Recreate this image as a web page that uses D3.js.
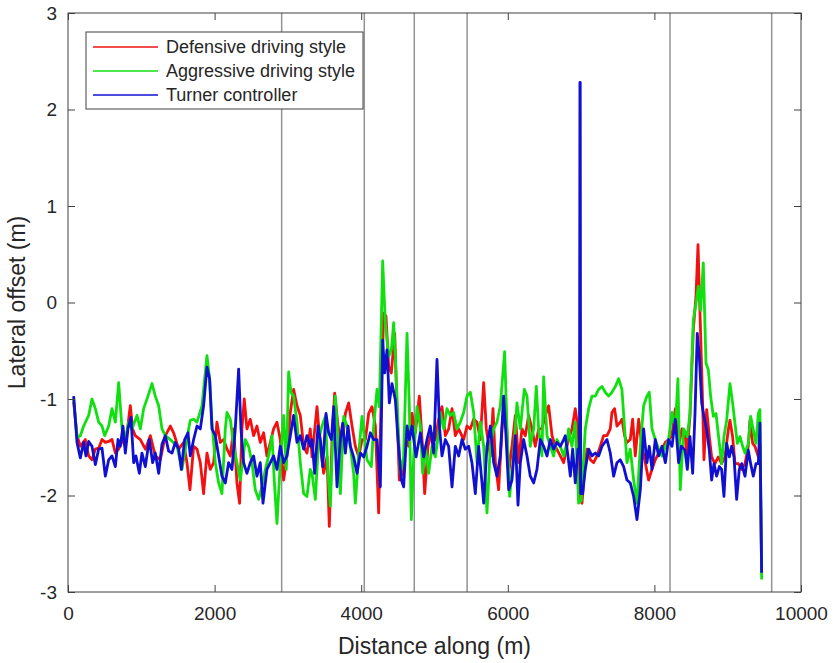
<!DOCTYPE html>
<html>
<head>
<meta charset="utf-8">
<script src="https://cdn.jsdelivr.net/npm/d3@7"></script>
<style>
    body { margin: 0; background: #fff; }
    text { font-family: "Liberation Sans", Arial, Helvetica, sans-serif; fill: #262626; }
</style>
</head>
<body>
<div id="chart"></div>
<script>
// distance along (m), lateral offset (m)
const defensive = [[77,-1.03],[123,-1.38],[168,-1.49],[236,-1.42],[282,-1.59],[327,-1.63],[373,-1.52],[418,-1.51],[464,-1.42],[509,-1.45],[555,-1.44],[600,-1.42],[646,-1.56],[691,-1.52],[737,-1.42],[782,-1.49],[850,-1.07],[882,-1.31],[918,-1.38],[987,-1.42],[1055,-1.52],[1123,-1.38],[1191,-1.59],[1259,-1.63],[1328,-1.38],[1396,-1.28],[1441,-1.35],[1510,-1.52],[1578,-1.45],[1623,-1.66],[1664,-1.94],[1714,-1.49],[1760,-1.52],[1805,-1.66],[1850,-1.98],[1896,-1.56],[1941,-1.73],[1987,-1.66],[2032,-1.24],[2078,-1.45],[2123,-1.42],[2169,-1.52],[2214,-1.59],[2260,-1.31],[2305,-1.87],[2341,-2.08],[2373,-1.31],[2405,-1.0],[2441,-1.31],[2487,-1.21],[2532,-1.38],[2578,-1.28],[2623,-1.45],[2669,-1.35],[2714,-1.59],[2760,-1.45],[2805,-1.31],[2851,-1.24],[2896,-1.42],[2942,-1.84],[2987,-1.59],[3033,-1.14],[3078,-0.90],[3124,-1.07],[3169,-1.17],[3215,-1.49],[3260,-1.56],[3305,-1.31],[3329,-1.60],[3397,-1.08],[3443,-1.49],[3488,-1.77],[3534,-1.60],[3565,-2.32],[3602,-1.42],[3638,-0.94],[3684,-1.28],[3738,-1.49],[3784,-1.15],[3829,-1.04],[3875,-1.28],[3920,-1.49],[3966,-1.60],[4011,-1.42],[4057,-1.42],[4102,-1.15],[4148,-1.08],[4193,-1.28],[4238,-2.18],[4275,-0.90],[4307,-0.11],[4338,-0.14],[4375,-0.66],[4411,-0.73],[4457,-0.32],[4488,-1.08],[4520,-1.84],[4566,-1.77],[4611,-1.42],[4648,-1.49],[4693,-1.15],[4739,-1.35],[4793,-0.97],[4830,-1.42],[4866,-1.98],[4911,-1.49],[4957,-1.35],[5011,-1.42],[5057,-1.21],[5102,-1.08],[5148,-1.38],[5193,-1.31],[5239,-1.10],[5284,-1.38],[5330,-1.31],[5398,-1.42],[5443,-1.28],[5489,-1.31],[5534,-1.21],[5580,-1.24],[5625,-1.42],[5671,-0.83],[5707,-1.31],[5762,-1.59],[5798,-1.10],[5830,-1.66],[5875,-1.94],[5921,-1.31],[5966,-0.97],[6012,-1.77],[6057,-1.49],[6103,-1.17],[6148,-1.66],[6193,-1.31],[6239,-1.38],[6284,-1.17],[6330,-1.31],[6375,-1.49],[6421,-1.31],[6466,-1.31],[6512,-1.17],[6557,-1.07],[6603,-1.38],[6648,-1.49],[6716,-1.59],[6762,-1.66],[6807,-1.49],[6830,-1.42],[6875,-1.31],[6921,-1.10],[6957,-1.31],[6989,-2.04],[7012,-2.08],[7048,-1.73],[7080,-1.52],[7126,-1.63],[7171,-1.66],[7216,-1.59],[7262,-1.49],[7307,-1.38],[7353,-1.38],[7398,-1.31],[7421,-1.14],[7457,-1.10],[7489,-1.28],[7535,-1.24],[7557,-1.21],[7594,-1.38],[7626,-1.45],[7671,-1.42],[7703,-1.21],[7739,-1.59],[7785,-1.21],[7830,-1.49],[7876,-1.66],[7921,-1.84],[7967,-1.73],[8012,-1.63],[8058,-1.56],[8103,-1.52],[8149,-1.45],[8194,-1.42],[8240,-1.38],[8285,-1.10],[8330,-1.49],[8376,-1.31],[8421,-1.38],[8440,-1.60],[8485,-1.18],[8531,-0.28],[8567,0.06],[8595,0.60],[8622,-0.11],[8658,-1.04],[8676,-1.63],[8713,-1.11],[8749,-1.39],[8781,-1.60],[8826,-1.67],[8872,-1.60],[8917,-1.67],[8963,-1.60],[9008,-1.32],[9031,-1.22],[9067,-1.39],[9099,-1.67],[9145,-1.67],[9190,-1.73],[9236,-1.67],[9281,-1.49],[9304,-1.22],[9340,-1.46],[9372,-1.49],[9418,-1.60],[9440,-1.46],[9463,-2.80]]

const aggressive = [[77,-1.0],[123,-1.40],[168,-1.38],[214,-1.28],[282,-1.17],[327,-1.0],[373,-1.10],[418,-1.24],[464,-1.28],[500,-1.38],[555,-1.28],[600,-1.10],[646,-1.24],[691,-0.83],[737,-1.31],[782,-1.42],[828,-1.24],[873,-1.31],[941,-1.17],[987,-1.31],[1032,-1.10],[1091,-0.97],[1146,-0.84],[1191,-0.97],[1237,-1.07],[1282,-1.31],[1328,-1.38],[1396,-1.42],[1487,-1.49],[1555,-1.73],[1646,-1.31],[1668,-1.22],[1714,-1.21],[1760,-1.24],[1828,-1.07],[1896,-0.55],[1932,-0.79],[1964,-1.24],[2010,-1.66],[2055,-1.87],[2100,-1.98],[2146,-1.31],[2169,-1.14],[2214,-1.21],[2260,-1.49],[2305,-1.66],[2351,-1.84],[2419,-1.42],[2464,-1.49],[2510,-1.66],[2555,-1.94],[2601,-2.04],[2646,-1.91],[2692,-1.73],[2737,-1.59],[2783,-1.38],[2814,-1.84],[2851,-2.29],[2896,-1.66],[2942,-1.17],[2978,-1.73],[3010,-0.72],[3042,-0.93],[3078,-0.97],[3124,-1.24],[3169,-1.66],[3215,-1.98],[3260,-2.01],[3305,-1.73],[3329,-1.77],[3374,-2.04],[3420,-1.42],[3465,-1.28],[3511,-1.18],[3547,-1.77],[3579,-2.11],[3611,-1.42],[3647,-0.97],[3684,-1.42],[3716,-1.98],[3761,-1.18],[3806,-1.28],[3852,-1.49],[3897,-1.77],[3920,-2.08],[3966,-1.56],[4011,-1.18],[4047,-1.42],[4079,-1.63],[4138,-1.70],[4170,-1.28],[4216,-0.90],[4248,-1.08],[4293,0.43],[4329,-0.21],[4375,-0.56],[4411,-0.49],[4443,-0.21],[4466,-0.56],[4502,-1.25],[4534,-1.77],[4579,-1.60],[4625,-0.32],[4657,-1.08],[4684,-2.25],[4716,-1.60],[4761,-1.08],[4807,-1.28],[4839,-1.77],[4875,-1.49],[4920,-1.77],[4966,-1.49],[5011,-1.60],[5057,-1.35],[5079,-1.14],[5125,-1.31],[5170,-1.10],[5216,-1.17],[5261,-1.14],[5307,-1.31],[5352,-1.24],[5398,-1.14],[5443,-0.97],[5489,-0.93],[5534,-1.14],[5580,-1.66],[5625,-1.24],[5671,-1.49],[5716,-2.18],[5762,-1.49],[5807,-1.31],[5852,-1.24],[5898,-1.07],[5957,-0.51],[5989,-1.31],[6025,-2.01],[6071,-1.66],[6125,-1.04],[6171,-1.31],[6225,-0.90],[6262,-0.97],[6307,-1.49],[6353,-1.31],[6389,-0.87],[6421,-1.31],[6466,-1.59],[6489,-0.77],[6535,-1.38],[6580,-1.49],[6625,-1.59],[6671,-1.42],[6716,-1.49],[6762,-1.59],[6807,-1.45],[6830,-1.31],[6875,-1.49],[6921,-1.24],[6966,-2.08],[7003,-2.05],[7057,-1.31],[7103,-1.10],[7148,-0.97],[7194,-0.97],[7239,-0.90],[7285,-0.87],[7330,-0.93],[7376,-0.97],[7421,-0.93],[7467,-0.87],[7512,-0.79],[7557,-0.90],[7594,-1.31],[7626,-1.66],[7671,-1.52],[7717,-1.84],[7762,-2.08],[7808,-1.49],[7853,-1.07],[7898,-0.97],[7930,-0.93],[7967,-1.31],[8012,-1.42],[8058,-1.52],[8103,-1.59],[8149,-1.49],[8194,-1.42],[8240,-1.14],[8285,-1.31],[8321,-0.79],[8353,-1.94],[8399,-1.31],[8449,-1.39],[8485,-1.15],[8531,-0.18],[8567,-0.01],[8599,0.17],[8631,-0.08],[8667,0.41],[8704,-0.63],[8736,-0.70],[8767,-0.97],[8804,-1.18],[8840,-1.15],[8886,-1.46],[8917,-1.67],[8949,-1.39],[8986,-1.22],[9031,-0.84],[9067,-1.04],[9099,-1.25],[9131,-1.46],[9168,-1.39],[9204,-1.49],[9236,-1.56],[9281,-1.46],[9313,-1.18],[9349,-1.32],[9386,-1.46],[9418,-1.15],[9440,-1.11],[9463,-2.87]]

const turner = [[77,-0.97],[123,-1.45],[168,-1.61],[214,-1.45],[245,-1.59],[282,-1.44],[327,-1.49],[373,-1.68],[418,-1.52],[464,-1.51],[509,-1.80],[555,-1.63],[600,-1.59],[646,-1.70],[682,-1.42],[714,-1.49],[750,-1.28],[782,-1.56],[818,-1.31],[859,-1.19],[896,-1.66],[927,-1.59],[973,-1.77],[1009,-1.56],[1055,-1.70],[1109,-1.42],[1155,-1.66],[1191,-1.56],[1237,-1.77],[1282,-1.47],[1328,-1.38],[1373,-1.54],[1419,-1.56],[1464,-1.45],[1510,-1.52],[1546,-1.73],[1591,-1.42],[1637,-1.35],[1668,-1.59],[1714,-1.42],[1760,-1.28],[1805,-1.31],[1850,-1.07],[1896,-0.67],[1932,-0.79],[1964,-1.31],[2010,-1.38],[2055,-1.59],[2100,-1.80],[2146,-1.87],[2191,-1.66],[2237,-1.73],[2282,-1.31],[2328,-0.69],[2360,-1.31],[2396,-1.66],[2441,-1.77],[2487,-1.66],[2532,-1.59],[2578,-1.80],[2623,-1.66],[2660,-2.08],[2714,-1.73],[2760,-1.66],[2805,-1.59],[2851,-1.73],[2896,-1.49],[2942,-1.66],[2987,-1.59],[3033,-1.38],[3078,-1.17],[3124,-1.45],[3169,-1.38],[3215,-1.52],[3260,-1.38],[3305,-1.49],[3329,-1.42],[3365,-1.77],[3411,-1.28],[3443,-1.42],[3475,-1.70],[3520,-1.15],[3556,-1.35],[3593,-1.42],[3625,-1.08],[3670,-1.91],[3716,-1.42],[3747,-1.25],[3784,-1.56],[3820,-1.28],[3852,-1.49],[3897,-1.60],[3943,-1.77],[3988,-1.56],[4034,-1.60],[4079,-1.49],[4125,-1.35],[4170,-1.42],[4216,-1.42],[4261,-1.91],[4293,-0.39],[4320,-0.73],[4352,-0.49],[4384,-1.04],[4420,-0.84],[4466,-1.01],[4502,-1.42],[4548,-1.84],[4579,-1.91],[4625,-1.28],[4657,-1.42],[4693,-1.28],[4748,-1.60],[4807,-1.35],[4852,-1.60],[4898,-1.42],[4943,-1.28],[4989,-1.56],[5034,-0.59],[5070,-1.31],[5102,-1.59],[5148,-1.42],[5193,-1.49],[5239,-1.91],[5284,-1.49],[5330,-1.59],[5375,-1.42],[5420,-1.52],[5466,-1.49],[5511,-1.66],[5557,-1.98],[5602,-1.49],[5648,-1.87],[5671,-2.08],[5716,-1.49],[5762,-1.28],[5807,-1.66],[5852,-1.80],[5898,-1.59],[5943,-0.97],[5975,-1.38],[6012,-1.94],[6057,-1.84],[6103,-1.38],[6139,-2.10],[6171,-1.66],[6216,-1.42],[6262,-1.59],[6307,-1.80],[6353,-1.87],[6398,-1.73],[6444,-1.42],[6489,-1.49],[6535,-1.59],[6580,-1.42],[6625,-1.52],[6671,-1.45],[6716,-1.49],[6762,-1.42],[6784,-1.38],[6821,-1.59],[6853,-1.80],[6885,-1.52],[6921,-1.87],[6957,-1.52],[6978,-1.55],[6984,2.28],[6988,2.28],[6994,-1.98],[7021,-1.98],[7057,-1.73],[7103,-1.52],[7148,-1.59],[7194,-1.56],[7239,-1.59],[7285,-1.49],[7353,-1.42],[7398,-1.56],[7444,-1.80],[7489,-1.66],[7535,-1.63],[7580,-1.70],[7626,-1.84],[7671,-1.87],[7717,-2.01],[7762,-2.25],[7808,-1.94],[7853,-1.31],[7898,-1.66],[7930,-1.49],[7967,-1.73],[8012,-1.42],[8058,-1.59],[8103,-1.49],[8149,-1.66],[8194,-1.42],[8240,-1.49],[8285,-1.21],[8330,-1.66],[8367,-1.49],[8417,-1.53],[8449,-1.73],[8485,-1.39],[8522,-1.77],[8554,-1.15],[8585,-0.32],[8613,-0.56],[8645,-1.04],[8676,-1.18],[8713,-1.32],[8749,-1.53],[8781,-1.84],[8813,-1.67],[8849,-1.80],[8886,-1.70],[8917,-1.73],[8949,-2.01],[8986,-1.46],[9022,-1.60],[9054,-1.49],[9086,-1.60],[9122,-2.04],[9158,-1.73],[9190,-1.67],[9236,-1.80],[9281,-1.53],[9313,-1.67],[9349,-1.80],[9386,-1.67],[9418,-1.67],[9440,-1.25],[9463,-2.80]]

const seriesNames = ['Defensive driving style', 'Aggressive driving style', 'Turner controller']
const seriesColors = ['#f21010', '#10e010', '#1010d0']
const sectionBreaks = [2915, 4042, 4724, 5445, 8213, 9600]
const xTicks = [0, 2000, 4000, 6000, 8000, 10000]
const yTicks = [-3, -2, -1, 0, 1, 2, 3]

const config = {
    width: 833,
    height: 663,
    margin: { left: 68, right: 32, top: 13, bottom: 71 },
    tickLen: 7,
}

const inner = {
    width: config.width - config.margin.left - config.margin.right,
    height: config.height - config.margin.top - config.margin.bottom,
}

const svg = d3
    .select('#chart')
    .append('svg')
    .attr('width', config.width)
    .attr('height', config.height)

const root = svg
    .append('g')
    .attr('transform', `translate(${config.margin.left}, ${config.margin.top})`)

const scaleX = d3.scaleLinear().domain([0, 10000]).range([0, inner.width])
const scaleY = d3.scaleLinear().domain([-3, 3]).range([inner.height, 0])

root.append('clipPath')
    .attr('id', 'plot-clip')
    .append('rect')
    .attr('width', inner.width)
    .attr('height', inner.height)

// section boundaries
root.append('g')
    .selectAll('line')
    .data(sectionBreaks)
    .join('line')
    .attr('x1', d => scaleX(d))
    .attr('x2', d => scaleX(d))
    .attr('y1', 0)
    .attr('y2', inner.height)
    .attr('stroke', '#939393')
    .attr('stroke-width', 1.5)

const line = d3.line()
    .x(d => scaleX(d[0]))
    .y(d => scaleY(d[1]))

root.append('g')
    .attr('clip-path', 'url(#plot-clip)')
    .selectAll('path')
    .data([defensive, aggressive, turner])
    .join('path')
    .attr('d', line)
    .attr('fill', 'none')
    .attr('stroke', (d, i) => seriesColors[i])
    .attr('stroke-width', 2.8)
    .attr('stroke-linejoin', 'round')

// axes, MATLAB style: ticks inside on all four sides
function styleAxis(g) {
    g.select('.domain').remove()
    g.selectAll('.tick line').attr('stroke', '#404040')
    g.selectAll('.tick text')
        .attr('font-size', '19px')
        .attr('font-family', '"Liberation Sans", Arial, sans-serif')
        .attr('fill', '#262626')
}

root.append('g')
    .attr('transform', `translate(0, ${inner.height})`)
    .call(d3.axisBottom(scaleX).tickValues(xTicks).tickSizeInner(-config.tickLen).tickSizeOuter(0).tickPadding(15).tickFormat(d3.format('d')))
    .call(styleAxis)

root.append('g')
    .call(d3.axisTop(scaleX).tickValues(xTicks).tickSizeInner(-config.tickLen).tickSizeOuter(0).tickFormat(''))
    .call(styleAxis)

root.append('g')
    .call(d3.axisLeft(scaleY).tickValues(yTicks).tickSizeInner(-config.tickLen).tickSizeOuter(0).tickPadding(11).tickFormat(d => String(d)))
    .call(styleAxis)

root.append('g')
    .attr('transform', `translate(${inner.width}, 0)`)
    .call(d3.axisRight(scaleY).tickValues(yTicks).tickSizeInner(-config.tickLen).tickSizeOuter(0).tickFormat(''))
    .call(styleAxis)

root.append('rect')
    .attr('width', inner.width)
    .attr('height', inner.height)
    .attr('fill', 'none')
    .attr('stroke', '#404040')
    .attr('stroke-width', 1)

// axis titles
svg.append('text')
    .attr('x', config.margin.left + inner.width / 2)
    .attr('y', 654)
    .attr('font-size', '23px')
    .attr('text-anchor', 'middle')
    .text('Distance along (m)')

svg.append('text')
    .attr('transform', `translate(25, ${config.margin.top + inner.height / 2}) rotate(-90)`)
    .attr('font-size', '23px')
    .attr('text-anchor', 'middle')
    .text('Lateral offset (m)')

// legend
const legend = svg.append('g').attr('transform', 'translate(86, 32)')

legend.append('rect')
    .attr('width', 277)
    .attr('height', 77)
    .attr('fill', '#fff')
    .attr('stroke', '#404040')
    .attr('stroke-width', 1)

const rows = legend.selectAll('g.row')
    .data(seriesNames)
    .join('g')
    .attr('class', 'row')
    .attr('transform', (d, i) => `translate(0, ${15 + i * 24})`)

rows.append('line')
    .attr('x1', 7)
    .attr('x2', 72)
    .attr('stroke', (d, i) => seriesColors[i])
    .attr('stroke-width', 1.5)

rows.append('text')
    .attr('x', 80)
    .attr('dy', '0.35em')
    .attr('font-size', '18px')
    .text(d => d)
</script>
</body>
</html>
